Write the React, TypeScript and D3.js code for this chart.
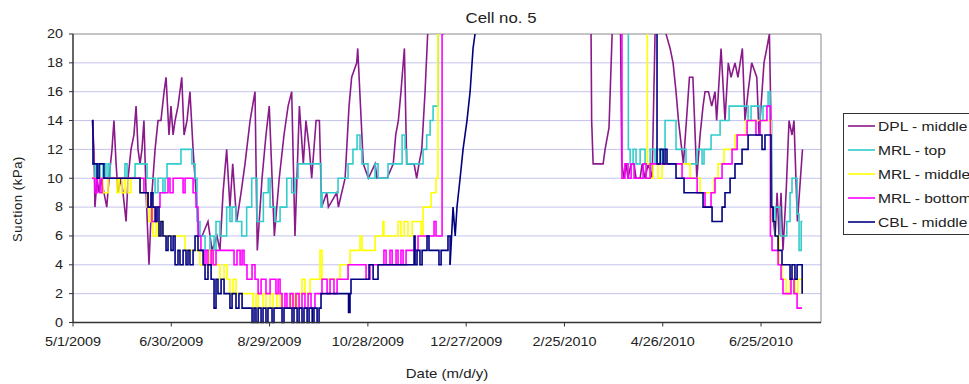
import React from "react";
import * as d3 from "d3";

// ---- data: [days since 5/1/2009, suction kPa] ----
const START_DATE = "5/1/2009";
const END_DAY = 456.6;

const DPL_MIDDLE: [number, number][] = [
  [11.8, 14], [12.8, 12], [13.4, 8], [14.7, 10], [15.9, 9], [17.1, 10], [18.9, 9], [20.6, 8], [22, 10], [23.8, 12],
  [25, 14], [26.3, 11], [27.5, 9], [29.3, 10], [30.5, 9], [32.4, 7], [33.6, 10], [35.4, 12], [37.2, 13], [38.5, 15],
  [39.7, 12], [40.9, 11], [42.1, 12], [43.3, 14], [44.6, 9], [46.4, 4], [48.2, 9], [50.1, 12], [51.9, 14], [53.7, 14],
  [55.6, 16], [56.8, 17], [58.6, 13], [59.8, 15], [61.1, 13], [62.3, 14], [64.1, 15], [66.4, 17], [67.8, 13], [69.6, 14],
  [71.4, 16], [73.3, 12], [75.1, 9], [76.9, 6], [78.8, 6], [82.4, 7], [84.9, 5], [87.9, 6], [89.7, 5], [91.6, 9],
  [93.8, 12], [95.8, 8], [97.5, 11], [99.9, 7], [102.6, 9], [105, 11], [108.1, 14], [111.1, 16], [112.5, 5], [115.4, 10],
  [117.8, 13], [119.8, 15], [122.9, 6], [125.9, 10], [128.8, 13], [131.3, 15], [133.5, 16], [135.5, 6], [138.2, 15], [140.6, 11],
  [142.2, 14], [144.3, 12], [145.7, 10], [148.4, 14], [150.4, 14], [151.8, 8], [154.9, 9], [155.9, 8], [161, 9], [162, 8],
  [166.1, 10], [168.5, 15], [170.1, 17], [173.2, 18], [173.8, 19], [177.2, 11], [180.3, 10], [184.4, 11], [185.6, 10], [191.7, 10],
  [195.5, 11], [197, 13], [198.6, 14], [200.2, 16], [202.3, 19], [203.7, 11], [208.2, 11], [209.8, 10], [211.2, 11], [212.9, 12],
  [214.9, 16], [216.5, 20], [218, 24], [316, 24], [316.6, 14], [317.5, 11], [323.6, 11], [324.8, 12], [327.2, 13.5], [329.1, 20],
  [329.7, 24], [333.9, 24], [335, 11], [336.4, 10], [337.6, 11], [338.8, 10], [340.7, 11], [342.5, 11], [343.7, 10], [346.2, 10],
  [347.4, 11], [349.2, 10], [351.1, 11], [353.5, 10], [355.3, 20], [355.9, 24], [361.4, 24], [362, 20], [364.5, 19], [366.3, 18],
  [368.1, 16], [369.6, 14], [372.6, 11], [376.3, 17], [378.4, 17], [380.8, 10], [382.8, 13], [384.6, 15], [385.8, 16], [387.9, 16],
  [389.9, 15], [391.9, 16], [392.9, 14], [395.6, 19], [398, 14], [400, 18], [401.7, 17], [404.1, 18], [405.9, 17], [408.6, 19],
  [410.2, 14], [412.1, 16], [414.3, 18], [417.4, 17], [418.8, 13], [421.8, 18], [423.5, 19], [425.1, 20], [425.9, 15], [426.7, 8],
  [428.6, 6], [429.8, 9], [431, 6], [432.2, 9], [433.4, 5], [435.3, 9], [437.1, 14], [438.9, 13], [440.1, 14], [442.2, 7], [445.3, 12],
];

const MRL_TOP: [number, number][] = [
  [11.6, 11], [13.4, 10], [14.7, 11], [16.5, 10], [18.3, 11], [20.1, 10], [21.4, 11], [22.6, 10], [29.9, 10], [31.7, 11],
  [33, 10], [36.6, 10], [37.9, 11], [44, 11], [45.2, 10], [50.1, 9], [51.9, 10], [54.9, 9], [56.2, 10], [57.4, 11],
  [65.3, 11], [65.9, 12], [71.4, 12], [72.6, 11], [74.5, 10], [75.7, 7], [77.5, 6], [79.4, 6], [80.6, 5], [83.6, 6],
  [86.1, 5], [87.3, 7], [89.7, 6], [91.6, 6], [93.8, 8], [95.8, 7], [97.1, 8], [99.5, 7], [103, 6], [106, 8],
  [109.1, 10], [112.3, 7], [114.2, 7], [116.2, 9], [119.2, 10], [120.3, 8], [123.3, 7], [126.4, 8], [130.5, 10], [133.5, 9],
  [135.5, 10], [137.4, 11], [150.8, 11], [151.4, 8], [152, 9], [154.9, 9], [161.8, 10], [164.8, 10], [167.9, 11], [170.9, 12],
  [173.4, 13], [175.2, 12], [176.4, 11], [180.1, 10], [182.5, 10], [184.4, 11], [186.2, 10], [190.5, 10], [192.3, 11], [199.6, 11],
  [200.9, 13], [202.7, 12], [203.7, 11], [212.5, 11], [213.7, 12], [215.9, 13], [218, 14], [219.8, 15], [222, 15], [223, 20],
  [223.4, 24], [337.6, 24], [339, 12], [340.1, 11], [341.9, 12], [343.7, 11], [346.2, 12], [349.2, 11], [352.3, 12], [355.3, 11],
  [356.5, 12], [358.9, 11], [360.2, 12], [361.4, 14], [367.5, 14], [368.1, 12], [373, 12], [374.2, 11], [379.7, 11], [380.9, 12],
  [384, 11], [385.2, 12], [387.7, 12], [389.5, 13], [393.2, 13], [395, 14], [399.2, 14], [400.5, 15], [410.2, 15], [412.1, 14],
  [413.9, 15], [418.2, 15], [419.4, 14], [421.2, 15], [423.1, 15], [424.3, 16], [425.5, 14], [426.5, 7], [428.6, 8], [431.6, 6],
  [433.4, 6], [435.7, 7], [437.7, 9], [438.9, 10], [440.7, 10], [442, 7.5], [443.2, 5], [444.5, 7], [445.3, 7],
];

const MRL_MIDDLE: [number, number][] = [
  [11.6, 10], [16.5, 10], [18.3, 9], [21.4, 10], [25, 10], [26.9, 9], [28.1, 10], [29.9, 9], [31.7, 10], [33.6, 9],
  [35.4, 10], [40.9, 9], [44, 9], [45.2, 8], [46.4, 7], [47.6, 8], [48.8, 6], [50.7, 7], [51.9, 6], [53.1, 7],
  [54.9, 6], [59.2, 6], [68.4, 5], [75.7, 5], [77.5, 4], [83.6, 5], [85.5, 4], [87.9, 4], [89.7, 3], [92.2, 4],
  [94, 3], [95.8, 2], [97.7, 3], [99.5, 2], [105, 2], [109.9, 1], [111.7, 2], [113, 1], [116, 2], [117.8, 1],
  [120.3, 2], [122.1, 1], [124.5, 2], [126.4, 1], [132.5, 1], [133.7, 2], [134.9, 1], [137.4, 2], [139.8, 3], [141.6, 2],
  [144.7, 3], [149.6, 3], [150.8, 5], [152, 3], [160, 3], [163, 4], [167.3, 4], [169.1, 5], [174, 5], [175.2, 6],
  [176.4, 5], [182.5, 5], [184.4, 6], [188.6, 6], [189.2, 7], [189.8, 6], [197.2, 6], [198.4, 7], [200.2, 6], [202.1, 7],
  [204.5, 6], [207, 7], [210.6, 7], [212.5, 6], [213.7, 8], [216.8, 8], [218.6, 9], [221, 9], [221.6, 10], [222.8, 20],
  [223.4, 24], [349.8, 24], [350.6, 11], [352.3, 10], [354.1, 11], [357.1, 10], [359.6, 11], [376.7, 10], [382.8, 9], [390.1, 9],
  [391.3, 10], [393.8, 11], [397.4, 12], [404.1, 13], [410.8, 14], [424.3, 14], [426.1, 7], [428.6, 6], [431, 4], [432.8, 3],
  [435.3, 2], [437.7, 3], [440.7, 2], [442.5, 3], [445, 2],
];

const MRL_BOTTOM: [number, number][] = [
  [11.6, 10], [13.4, 9], [14.7, 10], [16.5, 9], [17.7, 10], [40.9, 10], [43.3, 9], [45.8, 8], [48.2, 7], [50.7, 8],
  [53.1, 9], [56.8, 9], [58, 10], [59.2, 9], [61.1, 10], [65.3, 10], [67.2, 9], [68.4, 10], [72, 10], [73.3, 9],
  [75.1, 8], [76.3, 6], [78.1, 5], [80, 4], [81.2, 5], [82.4, 4], [84.3, 5], [85.5, 4], [87.3, 5], [97.1, 5],
  [98.3, 4], [100.1, 5], [102, 4], [103.2, 5], [104.4, 4], [106.2, 3], [109.3, 4], [111.1, 3], [113, 2], [114.8, 3],
  [117.8, 2], [120.3, 3], [123.9, 2], [125.2, 3], [126.4, 2], [127.6, 1], [129.4, 2], [130.6, 1], [132.5, 2], [134.3, 1],
  [136.1, 2], [138, 1], [139.8, 2], [141.6, 1], [143.5, 2], [145.3, 1], [147.7, 2], [150.8, 2], [152, 3], [155.1, 2],
  [156.9, 3], [159.3, 2], [161.2, 3], [166.7, 3], [167.9, 4], [177.7, 4], [178.9, 3], [181.3, 4], [189.2, 4], [189.8, 5],
  [191.1, 4], [193.5, 5], [194.8, 4], [197.2, 5], [198.4, 4], [200.2, 5], [201.5, 4], [203.3, 5], [210, 5], [210.6, 6],
  [219.2, 6], [220.4, 7], [221.6, 6], [224.7, 6], [225.3, 20], [225.9, 24], [333.9, 24], [335.1, 10], [336.9, 11], [338.8, 10],
  [340.7, 11], [342.5, 10], [346.2, 10], [348, 11], [349.8, 10], [352.3, 11], [370.6, 11], [371.8, 10], [379.7, 10], [381, 9],
  [384.6, 9], [385.8, 8], [388.2, 8], [389.5, 9], [391.9, 10], [396.2, 11], [402.3, 12], [405.4, 13], [411.5, 14], [415.1, 14],
  [416.9, 13], [419.4, 14], [422.4, 14], [423.6, 15], [424.9, 15], [425.7, 6], [426.7, 5], [429.1, 5], [430.4, 4], [432.2, 3],
  [433.4, 2], [436.5, 2], [438.3, 3], [440.1, 2], [442, 1], [445, 1],
];

const CBL_MIDDLE: [number, number][] = [
  [11.6, 14], [12.2, 11], [14, 11], [14.7, 10], [15.9, 11], [18.3, 11], [18.9, 10], [39.7, 10], [40.9, 9], [44.6, 9],
  [45.8, 8], [47.6, 9], [48.8, 8], [50.1, 7], [51.3, 8], [52.5, 6], [53.7, 7], [54.9, 6], [56.8, 5], [58, 6],
  [59.8, 5], [61.1, 6], [62.3, 4], [64.1, 5], [65.3, 4], [67.2, 5], [69, 4], [70.2, 5], [71.4, 4], [73.3, 5],
  [74.5, 6], [76.3, 5], [78.1, 5], [79.4, 4], [80.6, 3], [82.4, 4], [84.3, 3], [85.5, 3], [86.1, 1], [87.3, 3],
  [88.5, 2], [90.4, 3], [92.2, 2], [94.6, 2], [95.8, 1], [97.1, 2], [99.5, 1], [101.3, 2], [103.2, 1], [108.1, 1],
  [109.3, 0], [110.5, 1], [111.7, 0], [113, 1], [114.8, 0], [116, 1], [117.8, 0], [119, 1], [121.5, 0], [122.7, 1],
  [126.4, 1], [127.6, 0], [128.8, 1], [132.5, 1], [133.7, 0], [134.9, 1], [136.8, 0], [138, 1], [139.8, 0], [141, 1],
  [142.9, 0], [144.1, 1], [146, 0], [147.1, 1], [149, 0], [150.2, 1], [151.4, 2], [167.3, 2], [168.2, 0.7], [169.1, 2],
  [169.7, 3], [180.1, 3], [180.7, 4], [182.5, 4], [183.2, 3], [185.6, 3], [186.2, 4], [207.6, 4], [208.2, 6], [208.8, 4],
  [210, 5], [211.8, 4], [213.1, 5], [215.5, 5], [216.1, 6], [217.3, 5], [222.2, 5], [223.4, 4], [224.7, 5], [228.3, 5],
  [228.9, 6], [230.2, 4], [232, 8], [233.3, 6], [234.4, 8], [236.3, 10], [238.1, 12], [240.5, 14], [242.4, 16], [244.2, 19],
  [245.4, 20], [247.2, 24], [355.3, 24], [356.5, 11], [358.4, 12], [360.2, 11], [361.4, 12], [362.6, 11], [366.9, 11], [368.1, 10],
  [370.6, 10], [373, 9], [382.8, 9], [384, 9], [384.6, 8], [388.9, 8], [390.1, 7], [395, 7], [396.2, 8], [398, 9],
  [401.1, 10], [404.1, 11], [408.4, 12], [412.1, 13], [419.4, 13], [420.6, 12], [422.4, 13], [424.3, 13], [426.1, 8], [427.4, 7],
  [428.6, 6], [430.4, 5], [432.8, 4], [436.5, 4], [437.7, 3], [438.9, 4], [440.7, 3], [442, 4], [444.5, 4], [445.1, 2],
];

const SERIES_NAMES = ["DPL - middle", "MRL - top", "MRL - middle", "MRL - bottom", "CBL - middle"];
const SERIES_COLORS = ["#8a1a8a", "#33cccc", "#ffff00", "#ff00ff", "#000080"];
const SERIES_DATA = [DPL_MIDDLE, MRL_TOP, MRL_MIDDLE, MRL_BOTTOM, CBL_MIDDLE];
const SERIES_STEPPED = [false, true, true, true, true];
// day ranges drawn as straight ramps inside stepped series
const SERIES_RAMPS: [number, number][][] = [[], [], [], [], [[230.2, 247.2]]];

const X_TICK_LABELS = ["5/1/2009", "6/30/2009", "8/29/2009", "10/28/2009", "12/27/2009", "2/25/2010", "4/26/2010", "6/25/2010"];
const Y_TICKS = [0, 2, 4, 6, 8, 10, 12, 14, 16, 18, 20];

const TITLE = "Cell no. 5";
const X_LABEL = "Date (m/d/y)";
const Y_LABEL = "Suction (kPa)";

const W = 969, H = 384;
const PL = 73, PR = 821, PT = 34, PB = 322.5;
const FONT = "'Liberation Sans', Arial, sans-serif";
const SX = 1.2;
const DAY_MS = 86400000;

const parse = d3.utcParse("%m/%d/%Y");
const start = parse(START_DATE) as Date;
const toDate = (d: number) => new Date(start.getTime() + d * DAY_MS);

type Seg = { linear: boolean; pts: [number, number][] };
function splitSegments(data: [number, number][], stepped: boolean, ramps: [number, number][]): Seg[] {
  const segs: Seg[] = [];
  for (let i = 0; i < data.length - 1; i++) {
    const a = data[i], b = data[i + 1];
    const inRamp = ramps.some(([f, t]) => a[0] >= f && b[0] <= t);
    const linear = !stepped || inRamp;
    const last = segs[segs.length - 1];
    if (last && last.linear === linear) last.pts.push(b);
    else segs.push({ linear, pts: [a, b] });
  }
  return segs;
}

export default function App() {
  const x = d3.scaleUtc().domain([start, toDate(END_DAY)]).range([PL, PR]);
  const y = d3.scaleLinear().domain([0, 20]).range([PB, PT]);
  const mkLine = (linear: boolean) =>
    d3
      .line<[number, number]>()
      .x((p) => x(toDate(p[0])))
      .y((p) => y(p[1]))
      .curve(linear ? d3.curveLinear : d3.curveStepAfter);

  const txt = (
    tx: number,
    ty: number,
    s: string,
    size: number,
    anchor: "start" | "middle" | "end"
  ) => (
    <text
      transform={`translate(${tx},${ty}) scale(${SX},1)`}
      textAnchor={anchor}
      fontSize={size}
      fontFamily={FONT}
      fill="#222"
    >
      {s}
    </text>
  );

  return (
    <svg width={W} height={H} style={{ position: "absolute", left: 0, top: 0, background: "#fff" }}>
      <defs>
        <clipPath id="plotClip">
          <rect x={PL} y={PT} width={PR - PL} height={PB - PT + 2} />
        </clipPath>
      </defs>
      <rect x={0} y={0} width={W} height={H} fill="#fff" />
      {Y_TICKS.filter((t) => t > 0 && t < 20).map((t) => (
        <line key={"g" + t} x1={PL} x2={PR} y1={y(t)} y2={y(t)} stroke="#c4c4ee" strokeWidth={1} />
      ))}
      <line x1={PL} x2={PR} y1={PT} y2={PT} stroke="#8a8a8a" strokeWidth={1} />
      <line x1={PR} x2={PR} y1={PT} y2={PB} stroke="#8a8a8a" strokeWidth={1} />
      <g clipPath="url(#plotClip)">
        {SERIES_DATA.map((s, i) => (
          <g key={SERIES_NAMES[i]}>
            {splitSegments(s, SERIES_STEPPED[i], SERIES_RAMPS[i]).map((seg, j) => (
              <path
                key={j}
                d={mkLine(seg.linear)(seg.pts) || ""}
                fill="none"
                stroke={SERIES_COLORS[i]}
                strokeWidth={1.6}
              />
            ))}
          </g>
        ))}
      </g>
      <line x1={PL} x2={PL} y1={PT} y2={PB} stroke="#333" strokeWidth={1.5} />
      <line x1={PL} x2={PR} y1={PB} y2={PB} stroke="#333" strokeWidth={1.5} />
      {Y_TICKS.map((t) => (
        <g key={"y" + t}>
          <line x1={PL - 4} x2={PL} y1={y(t)} y2={y(t)} stroke="#333" strokeWidth={1} />
          {txt(PL - 10, y(t) + 4.3, String(t), 12, "end")}
        </g>
      ))}
      {X_TICK_LABELS.map((lab) => {
        const xx = x(parse(lab) as Date);
        return (
          <g key={"x" + lab}>
            <line x1={xx} x2={xx} y1={PB} y2={PB + 4} stroke="#333" strokeWidth={1} />
            {txt(xx, 345.5, lab, 12, "middle")}
          </g>
        );
      })}
      {txt(501, 22.5, TITLE, 14, "middle")}
      {txt(447, 378, X_LABEL, 12.5, "middle")}
      <text
        transform={`translate(22,199) rotate(-90)`}
        textAnchor="middle"
        fontSize={13}
        fontFamily={FONT}
        letterSpacing={0.6}
        fill="#222"
      >
        {Y_LABEL}
      </text>
      <rect x={843.5} y={113.5} width={140} height={121} fill="#fff" stroke="#333" strokeWidth={1} />
      {SERIES_NAMES.map((n, i) => {
        const cy = 126 + i * 24;
        return (
          <g key={"l" + n}>
            <line x1={848} x2={875} y1={cy} y2={cy} stroke={SERIES_COLORS[i]} strokeWidth={1.6} />
            {txt(878, cy + 4.6, n, 13, "start")}
          </g>
        );
      })}
    </svg>
  );
}
